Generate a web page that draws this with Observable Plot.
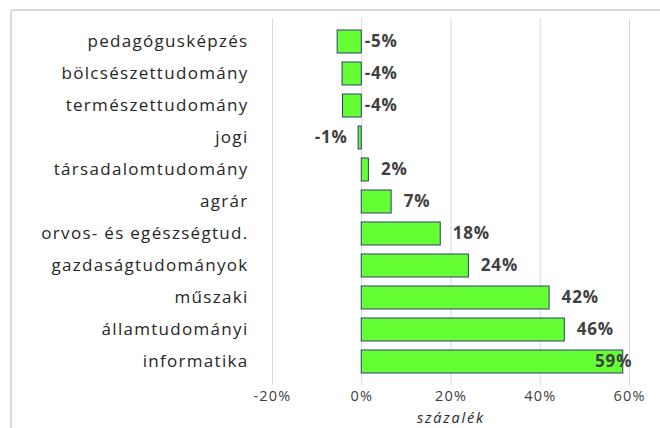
<!DOCTYPE html>
<html><head><meta charset="utf-8">
<script src="https://cdn.jsdelivr.net/npm/d3@7"></script>
<script src="https://cdn.jsdelivr.net/npm/@observablehq/plot@0.6"></script>
<style>
body{margin:0;background:#fff;}
#wrap{position:relative;width:660px;height:428px;overflow:hidden;background:#fff;}
#frame{position:absolute;left:10px;top:9px;width:700px;height:500px;border-left:2px solid #d9d9d9;border-top:2px solid #d9d9d9;border-top-left-radius:3px;}
#chart{position:absolute;left:0;top:0;}
g[aria-label="y-axis tick label"] text{letter-spacing:1.3px;}
g[aria-label="x-axis tick label"] text{letter-spacing:1.2px;}
g.vlab text{letter-spacing:0.8px;}
g.ttl text{letter-spacing:1.8px;}
</style></head><body>
<div id="wrap"><div id="frame"></div><div id="chart"></div></div>
<script>
const categories = ["pedagógusképzés","bölcsészettudomány","természettudomány","jogi","társadalomtudomány","agrár","orvos- és egészségtud.","gazdaságtudományok","műszaki","államtudományi","informatika"];
const values = [-5.4,-4.3,-4.2,-0.7,1.6,6.7,17.7,24.0,42.1,45.5,58.6];
const valueLabels = ["-5%","-4%","-4%","-1%","2%","7%","18%","24%","42%","46%","59%"];
const tickValues = [-20,0,20,40,60];
const tickLabels = ["-20%","0%","20%","40%","60%"];
const axisTitle = "százalék";

const data = categories.map((c,i)=>({c, v: values[i], label: valueLabels[i]}));
const inBase = data.filter(d => d.v < -2);
const outLeft = data.filter(d => d.v < 0 && d.v >= -2);
const outRight = data.filter(d => d.v >= 0 && d.v < 55);
const clamped = data.filter(d => d.v >= 55);

const font = "'Open Sans', sans-serif";
const labelStyle = {fontSize: 17, fontWeight: "bold", fill: "#404040", fontFamily: font, className: "vlab"};

const chart = Plot.plot({
  width: 660, height: 428,
  marginLeft: 272, marginRight: 31, marginTop: 18, marginBottom: 43,
  style: {fontFamily: font, background: "transparent"},
  x: {domain: [-20, 60]},
  y: {domain: categories, padding: 0.29},
  marks: [
    Plot.ruleX(tickValues, {stroke: "#d9d9d9", strokeWidth: 1}),
    Plot.barX(data, {x: "v", y: "c", fill: "#66ff33", stroke: "#2f3d70", strokeWidth: 1}),
    Plot.text(inBase, {x: 0, y: "c", text: "label", textAnchor: "start", dx: 3, ...labelStyle}),
    Plot.text(outLeft, {x: "v", y: "c", text: "label", textAnchor: "end", dx: -11, ...labelStyle}),
    Plot.text(outRight, {x: "v", y: "c", text: "label", textAnchor: "start", dx: 12, ...labelStyle}),
    Plot.text(clamped, {x: "v", y: "c", text: "label", textAnchor: "end", dx: 9, ...labelStyle}),
    Plot.axisY({tickSize: 0, tickPadding: 24, fontSize: 17, label: null, fill: "#262626"}),
    Plot.axisX({ticks: tickValues, tickFormat: (d,i) => tickLabels[tickValues.indexOf(d)], tickSize: 0, tickPadding: 5, fontSize: 14.5, label: null, fill: "#404040"}),
    Plot.text([axisTitle], {frameAnchor: "bottom", lineAnchor: "middle", dy: 33, fontSize: 14.5, fontStyle: "italic", fill: "#262626", fontFamily: font, className: "ttl"})
  ]
});
document.getElementById("chart").appendChild(chart);
</script>
</body></html>
